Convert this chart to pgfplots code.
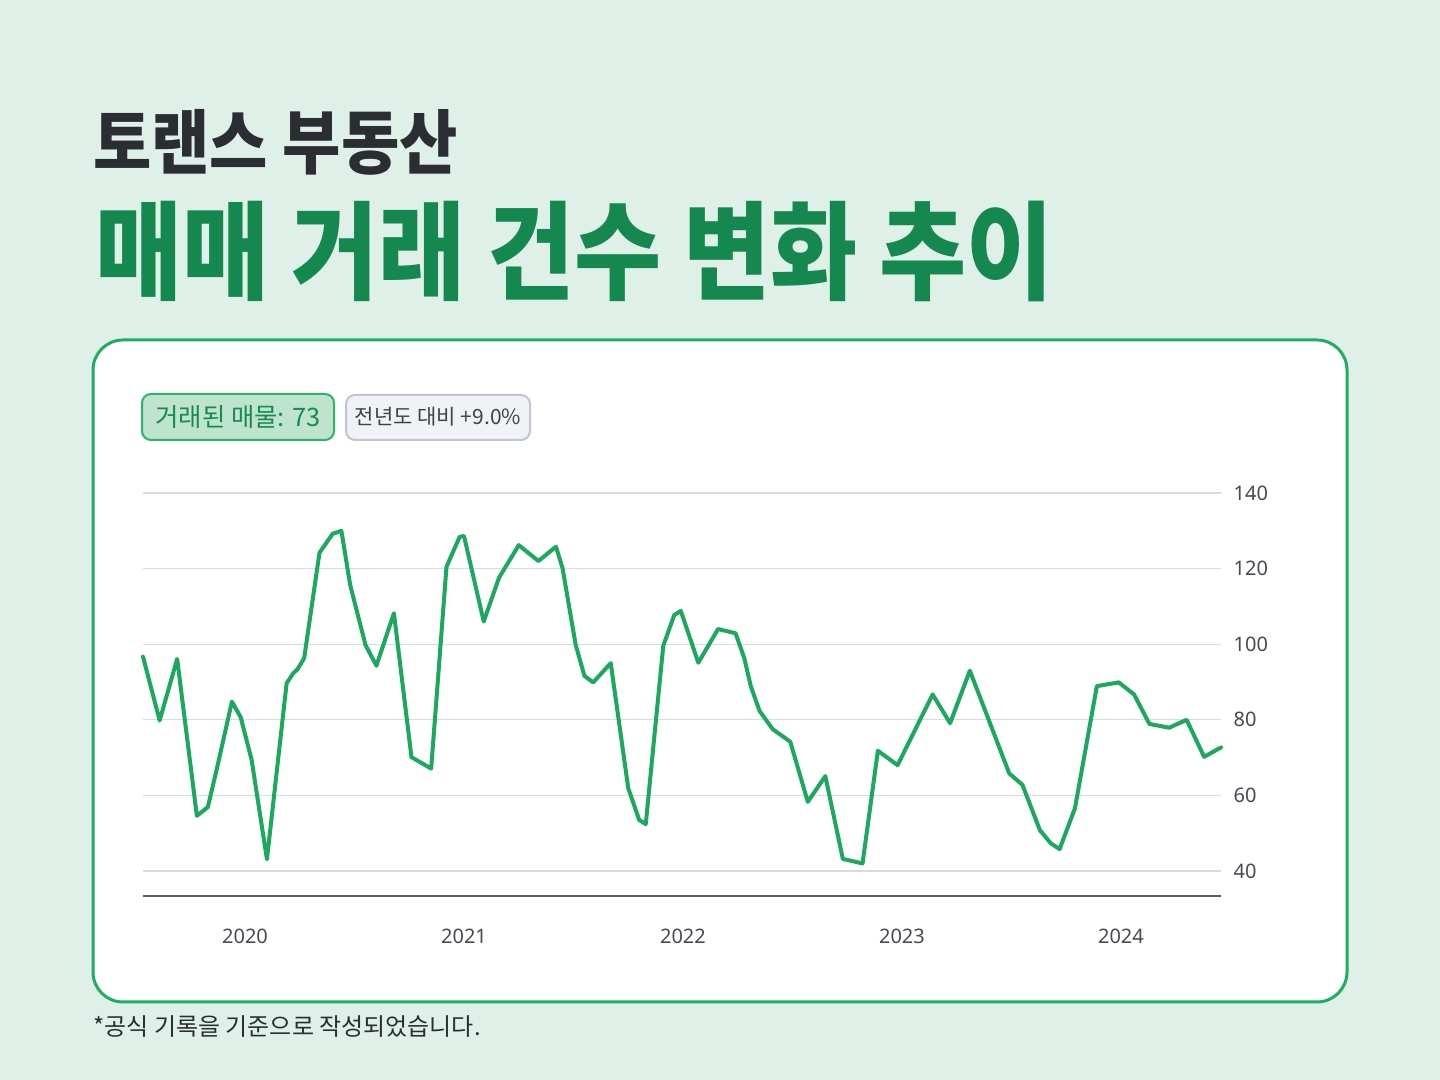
\documentclass[border=0pt]{standalone}
\usepackage{fontspec}
\setmainfont{Noto Sans}
\newfontfamily\kr{Noto Sans CJK KR}
\usepackage{graphicx}
\usepackage{pgfplots}
\pgfplotsset{compat=1.18}

\definecolor{bg}{HTML}{DFF0E9}
\definecolor{titlegray}{HTML}{2A2E33}
\definecolor{titlegreen}{HTML}{14884F}
\definecolor{cardborder}{HTML}{20AD62}
\definecolor{linegreen}{HTML}{1CA85E}
\definecolor{badgefill}{HTML}{BEE4CF}
\definecolor{badgeedge}{HTML}{2DB46A}
\definecolor{badgetext}{HTML}{178A4F}
\definecolor{greyfill}{HTML}{F0F2F5}
\definecolor{greyedge}{HTML}{C0C6D0}
\definecolor{greytext}{HTML}{3E4249}
\definecolor{gridgray}{HTML}{D8DCE2}
\definecolor{axisgray}{HTML}{5A5E64}
\definecolor{ticktext}{HTML}{464B53}

\begin{document}
\begin{tikzpicture}
% page background and card (1px = 0.5pt)
\fill[bg] (0pt,0pt) rectangle (720pt,540pt);
\draw[cardborder, line width=1.5pt, fill=white, rounded corners=15pt] (46.5pt,39pt) rectangle (673.5pt,370pt);

% titles
\node[anchor=west, inner sep=0pt, text=titlegray] at (46.5pt,469pt)
  {\scalebox{0.905}[1]{\kr\bfseries\fontsize{35}{40}\selectfont 토랜스 부동산}};
\node[anchor=west, inner sep=0pt, text=titlegreen] at (47.5pt,414.5pt)
  {\scalebox{0.885}[1]{\kr\bfseries\fontsize{53.5}{60}\selectfont 매매 거래 건수 변화 추이}};

% badges
\draw[rounded corners=4.5pt, fill=badgefill, draw=badgeedge, line width=1pt] (71pt,320pt) rectangle (167pt,343pt);
\node[text=badgetext, inner sep=0pt] at (119pt,331.5pt) {\kr\fontsize{12.7}{14}\selectfont 거래된 매물: 73};
\draw[rounded corners=4.5pt, fill=greyfill, draw=greyedge, line width=1pt] (173pt,320pt) rectangle (265pt,342.5pt);
\node[text=greytext, inner sep=0pt] at (219pt,331.5pt) {\kr\fontsize{10.5}{12}\selectfont 전년도 대비 +9.0\%};

% footnote
\node[anchor=west, inner sep=0pt, text=titlegray] at (46.5pt,26.5pt)
  {\kr\fontsize{12}{14}\selectfont *공식 기록을 기준으로 작성되었습니다.};

\begin{axis}[
  at={(71.5pt,92pt)}, anchor=south west,
  scale only axis, width=539pt, height=201.5pt,
  xmin=2019.534, xmax=2024.457, ymin=33.39, ymax=140,
  axis x line=bottom, axis y line=right,
  x axis line style={-, draw=axisgray, line width=0.8pt},
  y axis line style={draw=none},
  xtick={2020,2021,2022,2023,2024},
  xticklabels={2020,2021,2022,2023,2024},
  ytick={40,60,80,100,120,140},
  major tick length=0pt,
  ymajorgrids, grid style={draw=gridgray, line width=0.6pt},
  tick label style={font=\fontsize{10}{12}\selectfont, text=ticktext},
  xticklabel style={anchor=north, yshift=-12.8pt},
  yticklabel style={anchor=west, xshift=2.8pt},
  /pgf/number format/assume math mode=true,
  clip=false,
]
\addplot[color=linegreen, line width=2pt, line join=round, line cap=round, mark=none] coordinates {
(2019.534,96.7) (2019.61,79.8) (2019.69,96.1) (2019.78,54.6) (2019.83,56.9)
(2019.87,66.7) (2019.94,84.8) (2019.98,80.7) (2020.03,69.4) (2020.10,43.1)
(2020.19,89.7) (2020.22,92.3) (2020.24,93.4) (2020.27,96.3) (2020.34,124.2)
(2020.40,129.2) (2020.44,130.0) (2020.48,115.7) (2020.55,99.8) (2020.60,94.3)
(2020.68,108.2) (2020.76,70.1) (2020.85,67.1) (2020.92,120.5) (2020.98,128.4)
(2021.00,128.6) (2021.09,106.0) (2021.16,117.6) (2021.25,126.2) (2021.34,122.0)
(2021.42,125.8) (2021.45,120.1) (2021.51,99.8) (2021.55,91.6) (2021.59,89.9)
(2021.67,95.0) (2021.75,61.9) (2021.80,53.5) (2021.83,52.4) (2021.86,70.2)
(2021.91,99.6) (2021.96,107.7) (2021.99,108.8) (2022.07,95.1) (2022.16,104.0)
(2022.24,102.9) (2022.28,96.3) (2022.31,88.8) (2022.35,82.3) (2022.41,77.5)
(2022.49,74.2) (2022.57,58.3) (2022.65,65.1) (2022.73,43.2) (2022.82,42.0)
(2022.89,71.8) (2022.98,68.0) (2023.14,86.7) (2023.22,79.1) (2023.31,93.0)
(2023.49,65.8) (2023.55,62.8) (2023.63,50.8) (2023.68,47.3) (2023.72,45.8)
(2023.79,56.6) (2023.89,88.9) (2023.99,89.9) (2024.06,86.7) (2024.13,78.9)
(2024.22,77.9) (2024.30,80.0) (2024.38,70.2) (2024.457,72.7)
};
\end{axis}
\end{tikzpicture}
\end{document}
